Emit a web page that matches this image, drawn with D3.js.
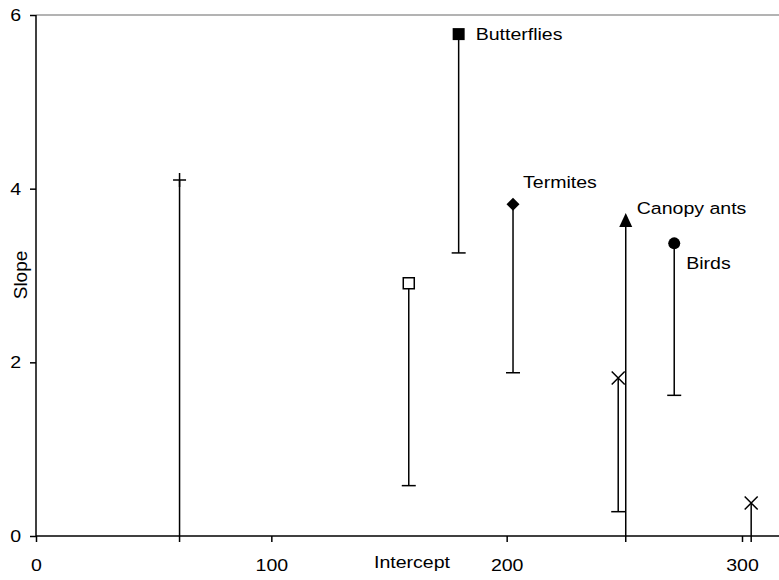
<!DOCTYPE html>
<html>
<head>
<meta charset="utf-8">
<script src="https://cdn.jsdelivr.net/npm/d3@7"></script>
<style>
  body { margin: 0; background: #fff; }
  svg { display: block; font-family: 'Liberation Sans', Arial, sans-serif; }
  /* the source picture is a bit stretched sideways, text included */
  .wide-start { transform-box: fill-box; transform-origin: left center; transform: scaleX(1.15); }
  .wide-mid { transform-box: fill-box; transform-origin: center; transform: scaleX(1.15); }
  .wide-end { transform-box: fill-box; transform-origin: right center; transform: scaleX(1.15); }
</style>
</head>
<body>
<svg></svg>
<script>
// --------------- data
const labels = ['', '', 'Butterflies', 'Termites', 'Canopy ants', 'Birds', '', ''];
const intercepts = [61.0, 158.4, 179.6, 202.7, 250.6, 271.2, 247.4, 303.9];
const slopes = [4.10, 2.91, 5.78, 3.82, 3.64, 3.37, 1.82, 0.38];
const lowerLimits = [-1, 0.58, 3.26, 1.88, -1, 1.62, 0.28, -1];
const xTicks = [0, 100, 200, 300];
const yTicks = [0, 2, 4, 6];

// marker shape per point and where its name sits
const markers = ['plus', 'openSquare', 'square', 'diamond', 'triangle', 'circle', 'cross', 'cross'];
const labelOffsets = [[0, 0], [0, 0], [17, 0], [10, -22], [11, -12], [12, 20], [0, 0], [0, 0]];

const points = intercepts.map(function (v, i) {
  return { x: v, y: slopes[i], low: lowerLimits[i], label: labels[i], marker: markers[i], off: labelOffsets[i] };
});

// setup
const width = 779;
const height = 580;
const plotLeft = 36;
const plotTop = 15;
const plotBottom = 536;

const svg = d3.select('svg')
  .attr('width', width)
  .attr('height', height);

// scales
const xScale = d3.scaleLinear().domain([0, 300]).range([plotLeft, 742]);
const yScale = d3.scaleLinear().domain([0, 6]).range([plotBottom, plotTop]);

// plot frame (top edge shows, right edge is off the picture)
svg.append('line')
  .attr('x1', plotLeft).attr('x2', width)
  .attr('y1', plotTop).attr('y2', plotTop)
  .attr('stroke', '#9a9a9a')
  .attr('stroke-width', 1.5);

// clip so bars that run below zero stop at the tick length
svg.append('clipPath').attr('id', 'plot')
  .append('rect')
  .attr('x', plotLeft).attr('y', 0)
  .attr('width', width - plotLeft).attr('height', plotBottom + 6);

// error bars
const bars = svg.append('g')
  .attr('clip-path', 'url(#plot)')
  .attr('stroke', '#000')
  .attr('stroke-width', 1.5);

bars.selectAll('line.bar')
  .data(points)
  .enter()
  .append('line')
  .attr('class', 'bar')
  .attr('x1', function (d) { return xScale(d.x); })
  .attr('x2', function (d) { return xScale(d.x); })
  .attr('y1', function (d) { return yScale(d.y); })
  .attr('y2', function (d) { return yScale(d.low); });

bars.selectAll('line.cap')
  .data(points.filter(function (d) { return d.low >= 0; }))
  .enter()
  .append('line')
  .attr('class', 'cap')
  .attr('x1', function (d) { return xScale(d.x) - 7; })
  .attr('x2', function (d) { return xScale(d.x) + 7; })
  .attr('y1', function (d) { return yScale(d.low); })
  .attr('y2', function (d) { return yScale(d.low); });

// axes
const yAxis = svg.append('g')
  .attr('transform', 'translate(' + plotLeft + ', 0)')
  .call(d3.axisLeft(yScale).tickValues(yTicks).tickFormat(d3.format('d')).tickSize(6).tickPadding(9));

const xAxis = svg.append('g')
  .attr('transform', 'translate(0, ' + plotBottom + ')')
  .call(d3.axisBottom(xScale).tickValues(xTicks).tickFormat(d3.format('d')).tickSize(6).tickPadding(17));

[yAxis, xAxis].forEach(function (g) {
  g.select('.domain').remove();
  g.selectAll('line').attr('stroke', '#000').attr('stroke-width', 1.5);
  g.selectAll('text').attr('font-size', 17).attr('fill', '#000')
    .attr('font-family', "'Liberation Sans', Arial, sans-serif");
});
yAxis.selectAll('text').attr('class', 'wide-end');
xAxis.selectAll('text').attr('class', 'wide-mid');

svg.append('line')
  .attr('x1', plotLeft).attr('x2', plotLeft)
  .attr('y1', plotTop).attr('y2', plotBottom)
  .attr('stroke', '#000').attr('stroke-width', 1.5);

svg.append('line')
  .attr('x1', plotLeft).attr('x2', width)
  .attr('y1', plotBottom).attr('y2', plotBottom)
  .attr('stroke', '#000').attr('stroke-width', 1.5);

// markers
function shape(kind) {
  switch (kind) {
    case 'square': return 'M-6,-6H6V6H-6Z';
    case 'openSquare': return 'M-5.5,-5.5H5.5V5.5H-5.5Z';
    case 'diamond': return 'M0,-6.5L6.5,0L0,6.5L-6.5,0Z';
    case 'triangle': return 'M0,-7L6.5,7H-6.5Z';
    case 'circle': return 'M6,0A6,6 0 1,1 -6,0A6,6 0 1,1 6,0Z';
    case 'plus': return 'M-6.5,0H6.5M0,-7V7';
    case 'cross': return 'M-6.5,-6.5L6.5,6.5M-6.5,6.5L6.5,-6.5';
  }
}

svg.append('g')
  .selectAll('path')
  .data(points)
  .enter()
  .append('path')
  .attr('transform', function (d) {
    return 'translate(' + xScale(d.x) + ', ' + yScale(d.y) + ')';
  })
  .attr('d', function (d) { return shape(d.marker); })
  .attr('fill', function (d) {
    if (d.marker === 'openSquare') return '#fff';
    if (d.marker === 'plus' || d.marker === 'cross') return 'none';
    return '#000';
  })
  .attr('stroke', function (d) {
    return (d.marker === 'openSquare' || d.marker === 'plus' || d.marker === 'cross') ? '#000' : 'none';
  })
  .attr('stroke-width', 1.5);

// point names
svg.append('g')
  .selectAll('text')
  .data(points.filter(function (d) { return d.label; }))
  .enter()
  .append('text')
  .attr('class', 'wide-start')
  .attr('x', function (d) { return xScale(d.x) + d.off[0]; })
  .attr('y', function (d) { return yScale(d.y) + d.off[1]; })
  .attr('dy', '0.35em')
  .attr('font-size', 17)
  .text(function (d) { return d.label; });

// axis titles
svg.append('text')
  .attr('class', 'wide-mid')
  .attr('x', 412)
  .attr('y', 562)
  .attr('dy', '0.35em')
  .attr('text-anchor', 'middle')
  .attr('font-size', 17)
  .text('Intercept');

svg.append('text')
  .attr('transform', 'translate(20, 275) rotate(-90)')
  .attr('dy', '0.35em')
  .attr('text-anchor', 'middle')
  .attr('font-size', 19)
  .text('Slope');
</script>
</body>
</html>
